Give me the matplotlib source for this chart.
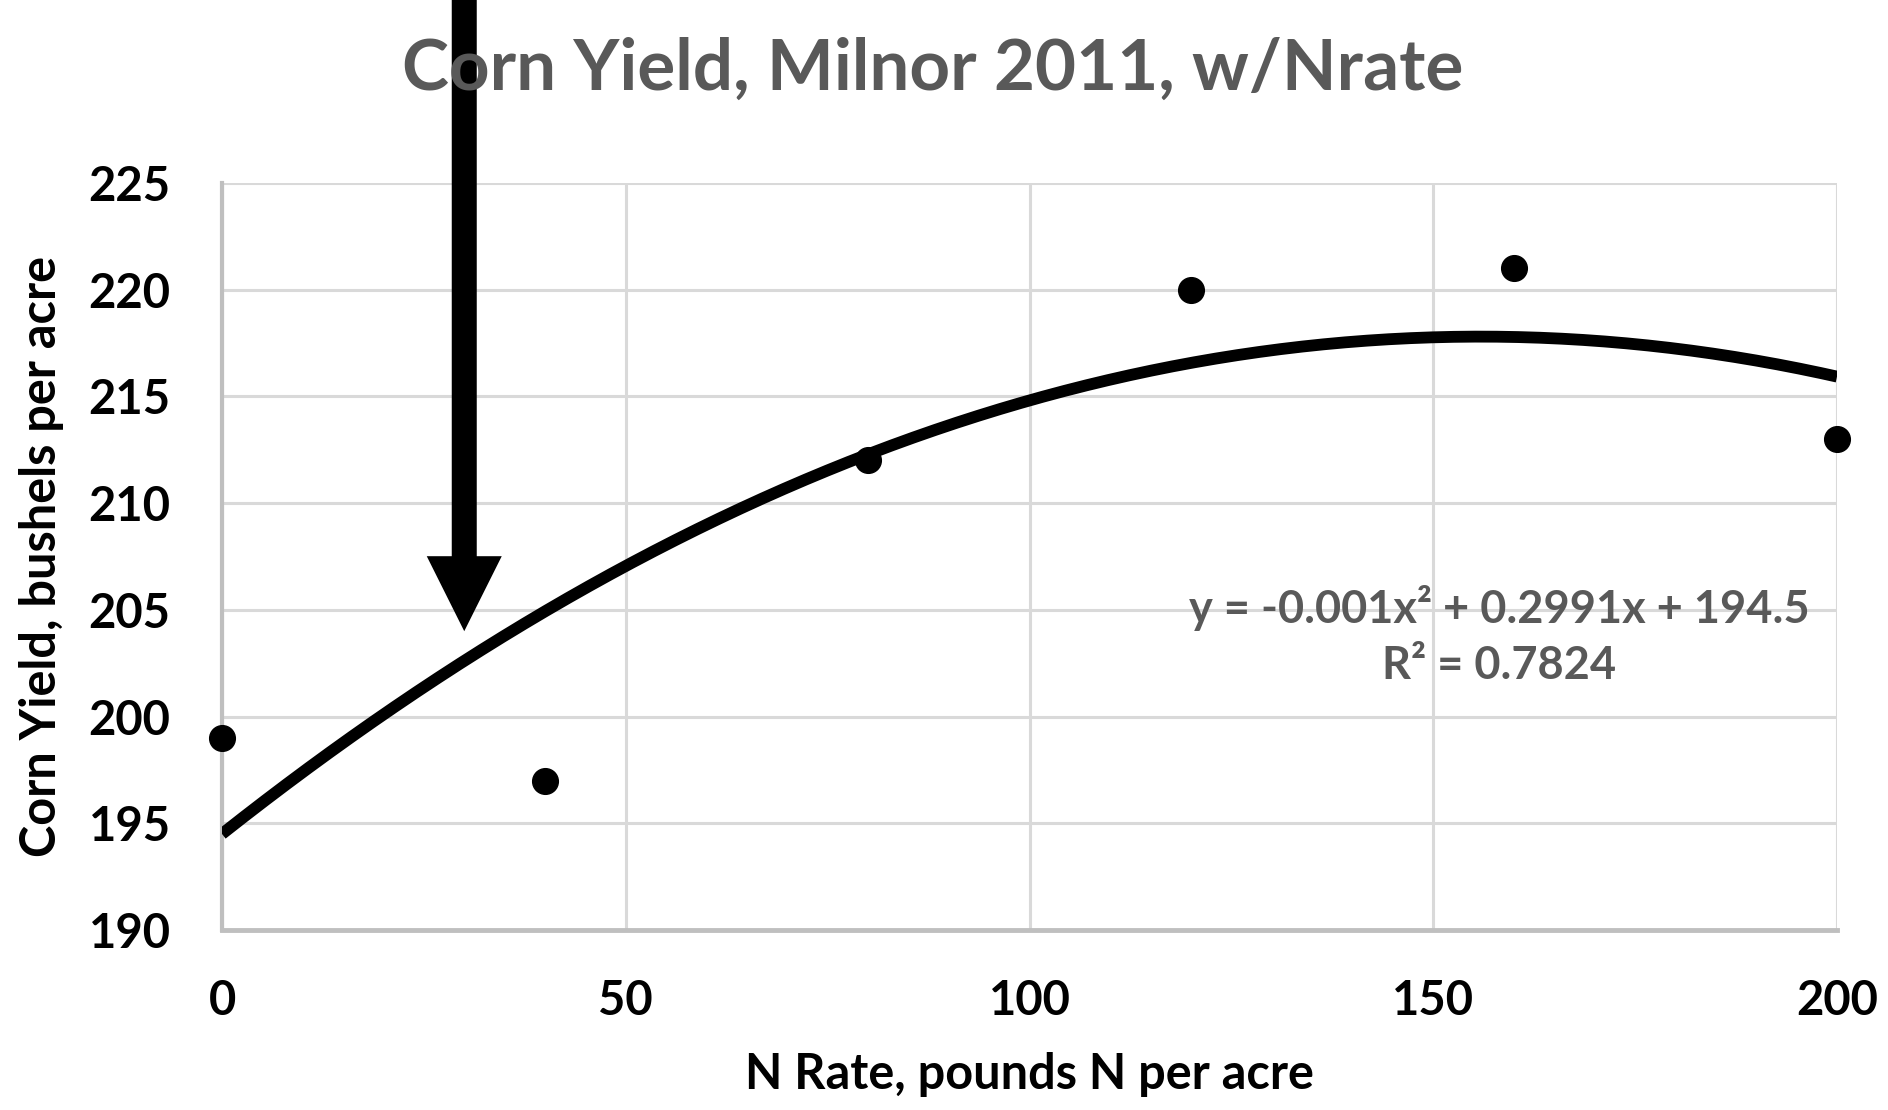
import numpy as np
import matplotlib
matplotlib.use("Agg")
import matplotlib.pyplot as plt

# data
n_rate = [0, 40, 80, 120, 160, 200]
yield_bu = [199, 197, 212, 220, 221, 213]
x_ticks = [0, 50, 100, 150, 200]
y_ticks = [190, 195, 200, 205, 210, 215, 220, 225]
equation = "y = -0.001x² + 0.2991x + 194.5"
r_squared = "R² = 0.7824"
arrow_x, arrow_y = 30, 204

plt.rcParams['font.family'] = ['Lato', 'DejaVu Sans']

fig = plt.figure(figsize=(18.88, 11.10), dpi=100)
ax = fig.add_axes([222 / 1888, 1 - 930 / 1110, 1615 / 1888, 747 / 1110])

# quadratic trendline, same as Excel's
coef = np.polyfit(n_rate, yield_bu, 2)
xs = np.linspace(0, 200, 300)
ax.plot(xs, np.polyval(coef, xs), color='black', lw=8.5, solid_capstyle='butt', zorder=3)
ax.plot(n_rate, yield_bu, 'o', color='black', ms=18.5, clip_on=False, zorder=4)

ax.set_xlim(0, 200); ax.set_ylim(190, 225)
ax.set_xticks(x_ticks); ax.set_yticks(y_ticks)
ax.grid(True, color='#d9d9d9', lw=2.2)
ax.set_axisbelow(True)
for s in ['top', 'right']:
    ax.spines[s].set_visible(False)
ax.spines['left'].set_color('#bfbfbf'); ax.spines['left'].set_linewidth(3)
ax.spines['bottom'].set_color('#bfbfbf'); ax.spines['bottom'].set_linewidth(3.5)
ax.tick_params(length=0, labelsize=34)
ax.tick_params(axis='y', pad=37)
ax.tick_params(axis='x', pad=35)
for lab in ax.get_xticklabels() + ax.get_yticklabels():
    lab.set_fontweight('bold')

ax.set_xlabel("N Rate, pounds N per acre", fontsize=35, fontweight='bold', va='center')
ax.xaxis.set_label_coords(0.5, -0.194)
ax.set_ylabel("Corn Yield, bushels per acre", fontsize=35, fontweight='bold', va='center')
ax.yaxis.set_label_coords(-0.112, 0.5)

fig.text(933 / 1888, 1 - 69 / 1110, "Corn Yield, Milnor 2011, w/Nrate", ha='center', va='center',
         fontsize=51, fontweight='bold', color='#595959')

ax.text(0.791, 0.431, equation, transform=ax.transAxes, ha='center', va='center',
        fontsize=32.5, fontweight='bold', color='#595959')
ax.text(0.791, 0.353, r_squared, transform=ax.transAxes, ha='center', va='center',
        fontsize=32.5, fontweight='bold', color='#595959')

# big black arrow pointing at the curve
ax.annotate('', xy=(arrow_x, arrow_y), xytext=(arrow_x, 1.0), textcoords=('data', 'figure fraction'),
            arrowprops=dict(facecolor='black', edgecolor='none', width=18, headwidth=54, headlength=54, shrink=0),
            annotation_clip=False, zorder=5)

fig.savefig("out.png", dpi=100)
